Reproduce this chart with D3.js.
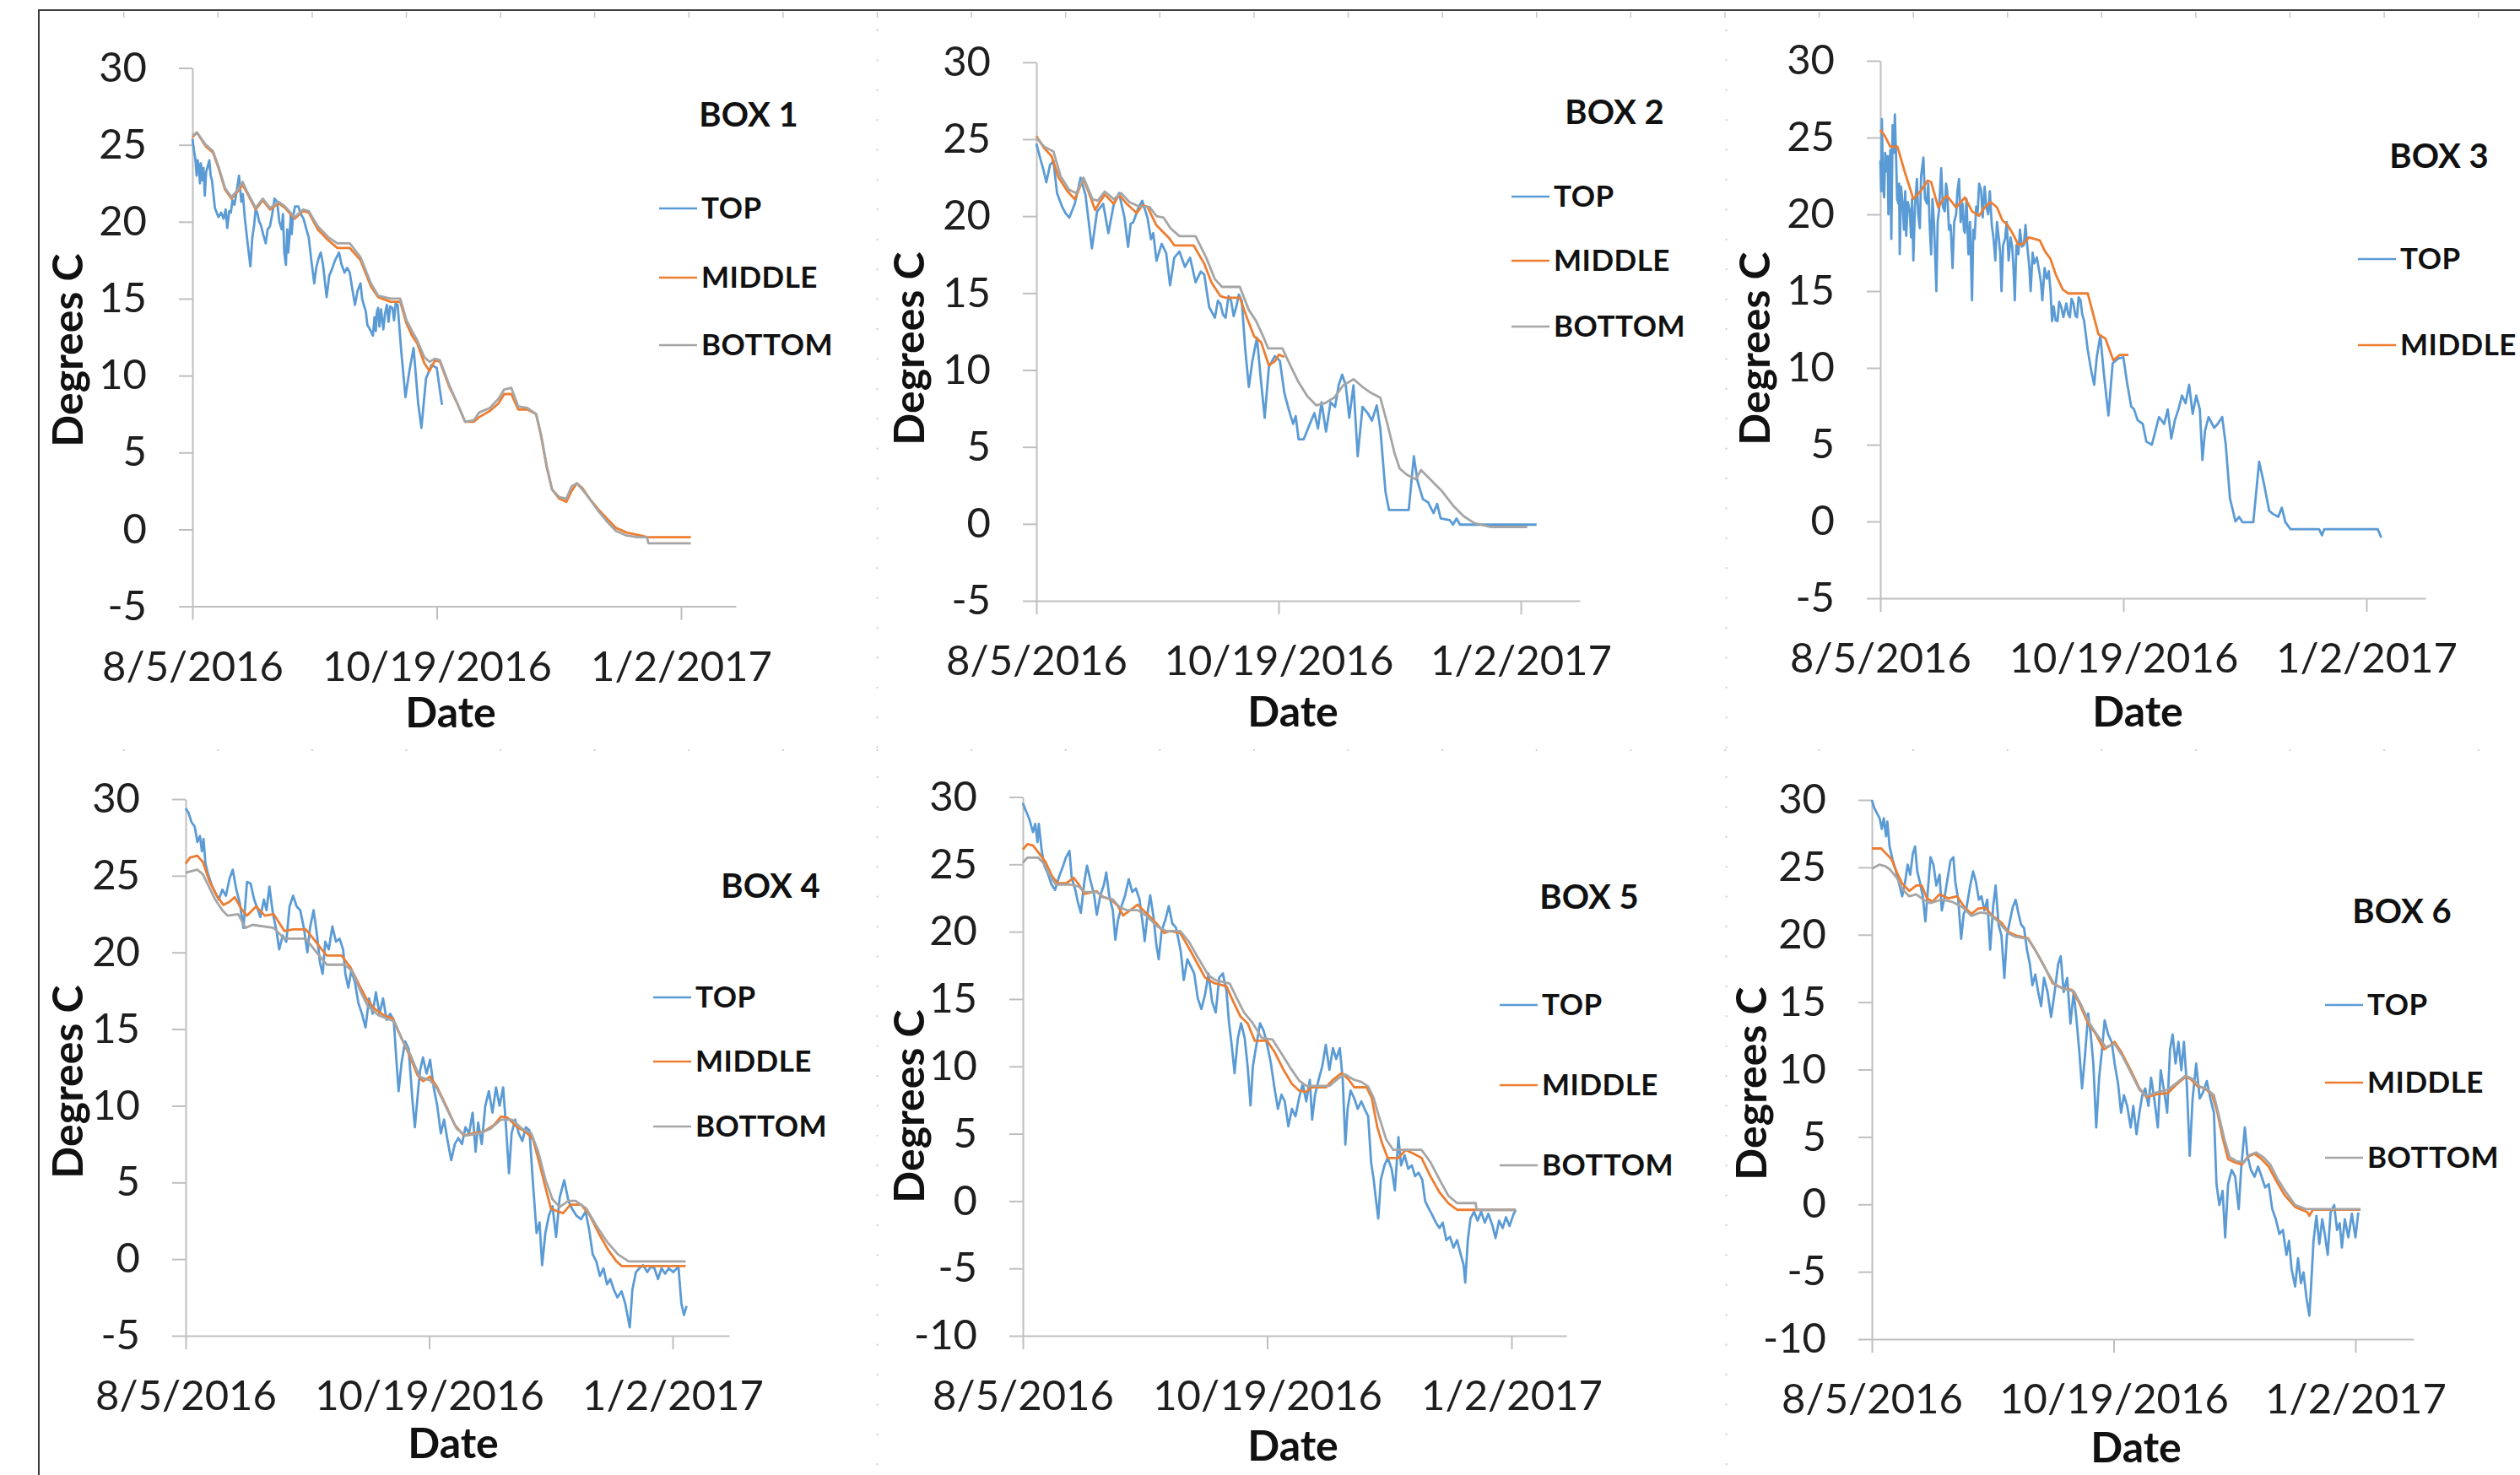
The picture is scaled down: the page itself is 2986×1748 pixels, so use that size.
<!DOCTYPE html>
<html>
<head>
<meta charset="utf-8">
<script src="https://cdn.jsdelivr.net/npm/d3@7"></script>
<style>
  body { margin: 0; background: #fff; }
  svg { display: block; }
</style>
</head>
<body>
<script>
// ---- data: [days since 8/5/2016, degrees C] ----
const seriesNames = ['TOP', 'MIDDLE', 'BOTTOM'];
const seriesColors = ['#5b9bd5', '#ed7d31', '#a5a5a5'];
const boxTitles = ['BOX 1', 'BOX 2', 'BOX 3', 'BOX 4', 'BOX 5', 'BOX 6'];
const yMins = [-5, -5, -5, -5, -10, -10];
const xTickLabels = ['8/5/2016', '10/19/2016', '1/2/2017'];
const startLabel = '8/5/2016';
const yAxisTitle = 'Degrees C';
const xAxisTitle = 'Date';

const box1Top = [[0,25.4],[0.5,24.6],[0.9,24.1],[1.3,23.0],[1.6,24.0],[2,23.6],[2.3,22.5],[2.6,23.8],[3,22.7],[3.4,23.5],[3.8,21.7],[4.2,23.2],[4.7,23.6],[5.2,24.0],[5.6,23.0],[6,22.7],[6.9,20.9],[8,20.3],[8.8,20.6],[9.6,20.2],[10.2,20.8],[10.7,19.6],[11.3,20.7],[11.8,20.6],[12.3,21.4],[12.9,21.1],[13.6,22.0],[14.3,23.0],[15,21.3],[15.5,21.8],[16.1,20.2],[17,18.5],[17.8,17.1],[18.4,19.0],[18.9,19.7],[19.4,20.8],[19.9,20.6],[20.5,20.0],[21,19.8],[21.7,19.2],[22.5,18.6],[23.1,19.5],[23.8,19.7],[24.5,20.5],[25.2,21.5],[26,21.3],[26.7,20.0],[27.4,19.5],[27.8,20.5],[28.2,18.0],[28.7,17.2],[29.1,19.5],[29.4,18.0],[29.8,19.0],[30.2,20.5],[30.5,19.2],[30.8,20.2],[31.5,21.0],[32.5,21.0],[33.3,20.5],[34.1,20.2],[35,19.5],[35.7,19.0],[36.5,17.5],[37.4,16.0],[38,17.0],[38.7,17.6],[39.4,18.0],[40.1,17.2],[41.2,15.1],[42,16.5],[42.8,16.9],[43.8,17.5],[45,18.0],[45.8,17.2],[46.7,16.7],[47.5,17.0],[48.3,16.7],[49.1,15.6],[49.9,14.6],[50.7,15.5],[51.6,16.0],[52.1,15.0],[52.6,14.6],[53.2,14.2],[53.7,13.3],[54.5,13.0],[55.4,12.6],[55.9,13.8],[56.3,12.9],[56.6,14.1],[57,14.4],[57.4,13.2],[57.9,14.3],[58.6,13.0],[59.1,14.0],[59.7,14.6],[60.2,13.5],[60.7,14.5],[61.4,14.4],[61.9,13.6],[62.4,14.7],[63,14.6],[64.1,11.6],[65.4,8.6],[66.6,10.3],[67.9,11.8],[69.3,8.2],[70.3,6.6],[71.7,9.8],[73.4,10.7],[75,10.5],[76.6,8.1]];
const box1Middle = [[0,25.5],[1.4,25.8],[4.1,24.9],[6.3,24.5],[8,23.5],[10,22.1],[12,21.5],[14,22.0],[15.4,22.4],[16.7,21.9],[19.4,20.8],[21.6,21.4],[23.8,20.8],[26.5,21.2],[28.4,20.9],[31.4,20.2],[34,20.7],[35.7,20.6],[38.5,19.5],[41.7,18.8],[44.5,18.3],[48.3,18.3],[51.6,17.5],[54.8,15.8],[57,15.1],[60.8,14.8],[63.8,14.8],[65.7,13.4],[67.4,12.6],[69,12.1],[71.2,10.8],[72.8,10.3],[74.5,11.0],[76,10.9],[78.8,9.3],[81.5,8.1],[83.7,7.0],[86.4,7.0],[88,7.3],[91.3,7.7],[94,8.2],[95.7,8.8],[97.9,8.8],[100,7.8],[102.8,7.8],[105.5,7.5],[107,6.1],[108.8,4.0],[110.4,2.6],[112.6,2.0],[114.8,1.8],[116.4,2.5],[118,3.0],[119.7,2.7],[121.9,2.0],[124.6,1.3],[127.3,0.7],[130,0.1],[133.3,-0.2],[136.6,-0.35],[139.8,-0.5],[153,-0.5]];
const box1Bottom = [[0,25.6],[1.4,25.8],[4.1,25.0],[6.3,24.6],[8,23.6],[10,22.2],[12,21.6],[14,22.1],[15.4,22.6],[16.7,22.0],[19.4,20.9],[21.6,21.5],[23.8,20.9],[26.5,21.3],[28.4,21.0],[31.4,20.3],[34,20.8],[35.7,20.7],[38.5,19.7],[41.7,19.0],[44.5,18.6],[48.3,18.6],[51.6,17.7],[54.8,16.0],[57,15.2],[60.8,15.0],[63.8,15.0],[65.7,13.6],[67.4,12.9],[69,12.3],[71.2,11.2],[72.8,10.9],[74.5,11.1],[76,11.0],[78.8,9.4],[81.5,8.1],[83.7,7.0],[86.4,7.1],[88,7.6],[91.3,7.9],[94,8.5],[95.7,9.1],[97.9,9.2],[100,8.0],[102.8,7.9],[105.5,7.5],[107,6.2],[108.8,4.1],[110.4,2.6],[112.6,2.1],[114.8,2.0],[116.4,2.8],[118,3.0],[119.7,2.6],[121.9,2.0],[124.6,1.2],[127.3,0.5],[130,-0.1],[133.3,-0.4],[136.6,-0.5],[139.5,-0.5],[140,-0.9],[153,-0.9]];

const box2Top = [[0,24.7],[1.4,23.6],[2.2,23.0],[3.1,22.2],[4.2,23.3],[5.3,23.6],[6.4,21.5],[8,20.6],[9,20.2],[10.2,19.9],[11.9,20.8],[13.7,22.5],[15.2,21.4],[17.2,17.9],[18.8,20.3],[20.7,20.8],[22.3,18.9],[24,20.8],[25.6,21.5],[27.3,19.9],[28.4,18.0],[29.2,19.5],[30,19.6],[31.7,20.6],[32.8,21.0],[34.4,19.9],[35.5,18.5],[36.2,18.9],[37.2,17.1],[38.8,18.2],[40.2,17.6],[41.4,15.5],[42.7,17.3],[44.3,17.7],[46,16.7],[47.6,17.3],[49.3,15.7],[50.9,16.4],[52,16.2],[53.5,14.1],[55.3,13.4],[56.2,14.5],[57,14.3],[57.8,13.6],[58.6,13.4],[59.5,14.8],[60.3,14.5],[61.1,13.5],[61.9,14.1],[62.7,14.9],[63.6,14.5],[64.7,11.3],[65.8,8.9],[66.9,10.6],[68.3,12.1],[69.6,9.2],[70.7,6.9],[72,10.2],[73.8,10.9],[75.4,10.6],[76.8,8.5],[78.2,7.4],[79.5,6.5],[80.3,7.0],[81.2,5.5],[82.8,5.5],[84.5,6.4],[86.1,7.2],[87.2,6.2],[88.3,7.9],[89.7,6.0],[91.1,7.9],[92.5,7.6],[93.6,9.0],[94.7,9.7],[95.8,9.0],[96.9,6.9],[98.2,9.0],[99.5,4.4],[101,7.6],[102.6,7.2],[103.9,6.7],[105.4,7.7],[106.5,6.2],[108.1,2.1],[109.2,0.9],[115.3,0.9],[116.9,4.4],[118,2.8],[119.7,1.6],[121.3,1.4],[123,0.7],[124.1,1.3],[125.2,0.35],[128,0.25],[129,-0.05],[130.1,0.35],[131.2,-0.05],[154.9,-0.05]];
const box2Middle = [[0,25.2],[2.5,24.4],[4.7,23.9],[6.9,22.5],[9.7,21.6],[11.9,21.1],[13.5,21.9],[14.6,22.4],[16.3,21.5],[18.2,20.4],[19.6,20.9],[21.2,21.4],[24,20.8],[25.6,21.4],[28,20.8],[31.1,20.2],[32.8,20.7],[34.4,20.6],[37.2,19.4],[41,18.6],[42.7,18.1],[48.7,18.1],[52,16.9],[54.2,15.7],[57,14.8],[58.6,14.7],[63,14.7],[65.2,13.4],[67.4,12.2],[69.6,11.8],[72,10.3],[74,10.6],[75.1,11.0],[76.8,10.85]];
const box2Bottom = [[0,25.1],[2.5,24.5],[5.3,24.2],[7.5,22.6],[10.2,21.7],[12.4,21.5],[14.6,22.5],[17.4,21.1],[19,21.0],[21.2,21.6],[24,21.1],[26.2,21.5],[28.9,20.9],[32.2,20.6],[35,20.6],[37.2,20.0],[39.4,19.9],[41.6,19.2],[44.3,18.7],[49.3,18.7],[52.6,17.3],[55.3,15.9],[57.5,15.4],[63,15.4],[65.8,13.9],[68,13.2],[70.2,12.2],[71.8,11.4],[76.2,11.4],[78.4,10.4],[81.2,9.2],[83.9,8.3],[86.7,7.7],[89.4,7.85],[92.2,8.2],[95,9.0],[98.2,9.4],[101,8.9],[103.7,8.5],[106.5,8.2],[108.7,6.5],[110.9,4.6],[112.5,3.6],[114.7,3.2],[117.5,2.9],[119.1,3.5],[122.4,2.8],[125.7,2.1],[129,1.2],[132.3,0.5],[135.6,0.05],[140.6,-0.2],[152,-0.2]];

const box3Top = [[0,23.5],[0.3,21.5],[0.5,26.2],[0.8,22.0],[1.2,21.1],[1.5,24.0],[2,22.8],[2.3,23.8],[2.5,20.0],[2.8,22.5],[3.1,24.2],[3.4,18.4],[3.6,22.0],[3.8,25.8],[4.2,24.0],[4.5,26.5],[4.9,23.5],[5.2,21.0],[5.6,20.7],[5.8,22.0],[6,17.4],[6.4,21.8],[6.9,20.7],[7.3,19.0],[7.7,21.5],[8,18.6],[8.5,20.8],[9.1,20.2],[9.5,18.5],[9.8,21.0],[10.2,17.0],[10.7,20.5],[11.3,22.3],[11.7,20.0],[12.2,19.1],[12.6,22.5],[13.3,23.7],[13.8,21.0],[14.4,20.7],[14.8,22.0],[15.3,19.0],[15.7,17.4],[16.1,21.0],[16.6,19.3],[17.3,15.0],[17.7,19.5],[18.1,20.2],[18.8,23.0],[19.3,20.5],[19.9,20.2],[20.3,22.0],[20.6,21.6],[21.2,19.0],[21.7,19.3],[22.3,16.5],[22.8,19.5],[23.4,20.0],[23.8,21.5],[24.3,22.3],[24.8,19.5],[25.4,20.7],[25.8,19.0],[26.1,18.8],[26.6,21.0],[27.2,17.4],[27.7,19.5],[28.3,14.4],[28.7,19.0],[29.1,18.4],[29.6,20.5],[30,20.0],[30.5,22.0],[31.1,21.6],[31.6,19.8],[32.2,21.8],[32.7,20.5],[33.3,20.0],[33.8,21.5],[34.4,19.3],[34.9,18.5],[35.5,17.0],[36,19.5],[36.6,18.4],[37,17.5],[37.4,15.0],[37.9,18.0],[38.5,18.4],[39,19.5],[39.6,17.0],[40.2,18.5],[40.7,17.9],[41.1,16.5],[41.5,14.4],[42,18.0],[42.6,17.4],[43.1,19.0],[43.7,17.9],[44.3,18.0],[44.8,19.3],[45.2,18.3],[45.6,17.4],[46,16.5],[46.4,15.0],[47,17.5],[47.5,16.8],[48.3,17.2],[49.2,16.1],[49.6,15.5],[50,14.4],[50.7,16.5],[51.4,15.8],[52,16.3],[52.5,15.1],[53,13.05],[53.5,14.0],[54.1,13.1],[54.7,13.05],[55.2,14.3],[55.8,14.0],[56.5,13.3],[57.4,14.2],[58,13.5],[58.5,13.3],[59,14.5],[59.6,14.2],[60.2,13.4],[60.7,13.3],[61.2,14.6],[61.8,14.4],[62.3,13.5],[62.9,13.05],[64,11.2],[65.1,9.8],[66,8.9],[66.8,10.7],[67.9,12.1],[69,9.6],[70.4,6.9],[71.7,10.3],[73.3,10.6],[75,10.7],[76.1,9.1],[77.4,7.5],[78.3,7.3],[79.4,6.6],[81,6.35],[82.1,5.2],[83.8,5.0],[84.9,5.9],[86,6.8],[87.6,6.35],[88.7,7.3],[89.8,5.4],[90.9,6.6],[92,7.3],[93.1,8.2],[94.2,7.7],[95.3,8.9],[96.4,7.0],[97.5,8.2],[98.6,7.3],[99.4,4.0],[100.2,5.9],[101.3,6.8],[103,6.1],[104.1,6.35],[105.5,6.8],[106.6,5.0],[107.9,1.5],[109.6,0],[110.7,0.3],[111.8,-0.05],[115.1,-0.05],[116.9,3.9],[118.4,2.45],[120,0.7],[121.1,0.5],[122.8,0.3],[123.9,0.9],[125,-0.05],[126.6,-0.5],[135.4,-0.5],[136.3,-0.9],[137,-0.5],[153.5,-0.5],[154.6,-1.05]];
const box3Middle = [[0,25.5],[1.4,25.1],[3.1,24.4],[5.3,24.4],[7.5,22.8],[10.2,21.0],[12.4,21.5],[14.6,22.2],[15.7,22.1],[17.9,20.45],[19.5,21.0],[20.6,21.2],[23.4,20.45],[26.1,21.1],[28.3,20.2],[30.5,19.9],[32.2,20.45],[34.1,20.8],[36,20.45],[37.7,19.6],[39.3,19.3],[41,18.7],[42.6,18.0],[44.2,18.1],[45.9,18.5],[49.2,18.3],[50.8,17.6],[52.5,17.1],[54.1,16.1],[56.3,15.1],[58,14.85],[64,14.85],[65.7,13.5],[67.3,12.2],[69.5,11.9],[71.9,10.5],[73.9,10.85],[76.6,10.85]];

const box4Top = [[0,29.4],[0.9,29.1],[1.8,28.5],[2.8,28.2],[3.6,27.2],[4.4,27.6],[5,26.6],[5.5,27.4],[6.1,25.8],[6.9,25.1],[8,24.4],[9.1,23.9],[10.2,23.45],[11.3,24.1],[12.4,23.7],[13.5,24.8],[14.5,25.4],[15.6,24.1],[16.7,23.2],[17.8,21.6],[18.9,24.6],[20,24.5],[21.1,23.45],[21.9,23.0],[23,22.3],[24.1,23.45],[24.9,22.75],[25.8,24.3],[26.9,22.5],[28,21.4],[28.8,20.2],[29.9,21.1],[31,20.7],[32,23.0],[33.1,23.7],[34.2,23.0],[35.3,22.75],[36.4,21.6],[37.5,20.0],[38.3,21.6],[39.4,22.75],[40.3,21.4],[41.4,19.3],[42.2,18.6],[43,20.7],[44.1,20.2],[45.2,21.7],[46.3,20.7],[47.4,20.9],[48.5,20.2],[49.2,18.6],[50.1,17.7],[51,18.8],[52.1,18.1],[53.2,16.7],[54.3,16.0],[55.4,15.1],[56.5,17.0],[57.6,16.0],[58.6,17.4],[59.7,16.0],[60.8,17.0],[61.9,15.6],[63,16.0],[64.1,15.6],[64.9,13.0],[65.6,10.95],[66.5,12.8],[67.6,14.2],[68.7,13.7],[69.8,10.5],[70.6,8.6],[71.4,10.5],[72.2,12.3],[73.1,13.15],[74.2,12.1],[75.3,13.0],[76.4,11.2],[77.5,10.0],[78.6,8.2],[79.6,9.1],[80.7,7.7],[81.8,6.45],[82.9,7.5],[84,7.9],[85.1,7.5],[86.2,8.6],[87.3,8.2],[88.4,9.55],[89.3,7.0],[90.1,8.9],[91.2,7.5],[92.3,10.0],[93.4,10.95],[94.5,9.55],[95.6,11.2],[96.7,10.0],[97.8,11.2],[98.6,8.9],[99.6,5.6],[100.4,8.2],[101.5,9.1],[102.6,8.2],[103.7,7.7],[104.8,8.6],[105.9,8.4],[107,4.9],[108.1,1.7],[109,2.4],[109.8,-0.4],[110.8,1.7],[111.9,2.85],[113,3.45],[114.1,1.45],[115.2,4.0],[116.6,5.15],[117.9,3.8],[119,3.3],[120.3,2.85],[121.8,2.6],[123.2,3.1],[124.3,1.9],[125.4,0.3],[126.5,-0.15],[127.6,-1.1],[128.7,-0.6],[129.8,-1.65],[130.8,-1.3],[131.9,-2.0],[133,-2.5],[134.3,-2.1],[135.4,-2.9],[136.8,-4.45],[137.6,-2.0],[138.7,-0.85],[139.8,-0.6],[140.9,-0.4],[142.2,-0.85],[143.3,-0.5],[144.4,-0.6],[145.5,-1.3],[146.6,-0.6],[147.7,-0.95],[148.8,-0.6],[150.2,-0.85],[151.8,-0.5],[152.7,-2.9],[153.5,-3.65],[154.3,-3.05]];
const box4Middle = [[0,25.8],[1.4,26.2],[3.6,26.3],[5.3,25.9],[7.4,24.6],[9.6,23.7],[11.6,23.1],[13.5,23.3],[15.1,23.6],[17.3,22.8],[18.9,22.4],[21.7,23.0],[24.4,22.4],[27.1,22.5],[30.4,21.4],[33.1,21.5],[37,21.5],[39.7,20.8],[41.9,20.2],[43.5,19.8],[48,19.8],[50.7,19.05],[53.4,17.9],[55.6,17.0],[58.3,16.3],[61,15.9],[63.8,15.7],[65.4,14.9],[68.7,13.4],[71.4,12.0],[73.1,11.6],[75.3,11.9],[77.5,11.2],[80.2,10.0],[82.9,8.75],[85.7,8.05],[88.4,8.2],[91.7,8.3],[95,8.75],[97.2,9.3],[99.3,9.2],[102.1,8.6],[104.8,8.3],[107,7.8],[108.6,6.55],[110.8,4.7],[112.5,3.3],[114.7,3.1],[116.3,3.0],[118.5,3.55],[121.8,3.55],[124.5,2.85],[127.2,1.7],[130,0.65],[132.7,-0.15],[134.3,-0.45],[154,-0.45]];
const box4Bottom = [[0,25.2],[3.6,25.4],[5.3,25.1],[6.9,24.4],[9.1,23.45],[11.3,22.75],[12.9,22.4],[16.2,22.5],[18.4,21.6],[20.6,21.8],[27.1,21.6],[30.4,20.9],[37,20.9],[40.3,20.0],[43.5,19.2],[49,19.2],[51.2,18.8],[54,17.4],[56.1,16.5],[59.4,15.9],[64.3,15.5],[66.5,14.4],[69.3,13.3],[72,11.9],[75.3,11.65],[77.5,11.1],[80.7,9.7],[83.5,8.5],[86.2,8.05],[90.6,8.2],[93.9,8.5],[97.2,9.1],[100.5,9.1],[103.7,8.5],[106.5,8.2],[108.6,7.0],[110.8,5.2],[113,3.9],[115.2,3.4],[117.9,3.8],[120.1,3.8],[123.4,3.3],[126.6,2.15],[129.9,1.1],[133.2,0.3],[136.5,-0.15],[154,-0.15]];

const box5Top = [[0,29.55],[0.9,29.0],[2,28.35],[3.1,27.4],[3.8,28.0],[4.5,26.65],[4.9,28.0],[5.8,26.0],[6.6,24.9],[7.7,24.3],[8.8,23.5],[9.9,23.1],[11,24.0],[12.1,24.7],[13.2,25.5],[14.3,26.0],[15,24.0],[16.1,23.1],[16.9,22.2],[17.8,21.4],[18.9,23.75],[19.7,24.9],[20.8,23.75],[21.9,22.7],[22.7,21.25],[23.8,22.7],[24.9,23.5],[25.6,24.4],[26.5,22.7],[27.6,21.6],[28.4,19.4],[29.2,20.85],[30.3,21.9],[31.4,22.7],[32.5,23.9],[33.6,22.95],[34.7,23.2],[35.8,22.4],[36.8,20.6],[37.4,19.3],[38.3,21.4],[39.1,22.7],[40.1,21.1],[41,19.0],[41.7,17.95],[42.6,20.05],[43.7,20.85],[44.8,21.9],[45.9,20.6],[47,20.3],[47.7,19.5],[48.5,18.5],[49.4,16.4],[50.5,17.95],[51.6,17.4],[52.6,16.9],[53.7,15.05],[54.8,14.25],[55.9,15.3],[57,16.9],[58.1,14.8],[59.2,14.0],[60.3,16.6],[61.4,16.9],[62.5,15.6],[63.3,13.2],[64.1,11.6],[65,9.5],[66,12.1],[67,13.2],[68.1,12.1],[69,10.0],[69.9,7.1],[70.6,10.0],[71.7,11.6],[72.8,13.2],[73.9,12.65],[75,11.6],[76.1,10.3],[77.2,8.45],[78.3,6.85],[79.4,7.9],[80.4,7.4],[81.5,5.55],[82.6,6.85],[83.7,6.3],[84.8,7.65],[85.9,8.7],[87,7.4],[88.1,9.0],[88.8,6.05],[89.7,7.9],[90.8,9.0],[91.9,10.0],[93,11.6],[94.1,9.75],[95.2,11.35],[96.2,10.55],[97.3,11.35],[98.2,9.0],[99,4.2],[99.7,6.85],[100.6,8.2],[101.7,7.65],[102.8,6.85],[103.9,7.4],[104.9,6.85],[106,6.3],[106.9,2.9],[107.7,1.6],[108.2,0.5],[109.1,-1.3],[109.9,1.6],[111,2.65],[112,3.2],[113.2,2.4],[114.2,0.8],[115.3,4.75],[116.1,2.65],[117.2,3.4],[118.3,2.4],[119.4,2.65],[120.4,1.85],[121.5,2.1],[122.6,1.6],[123.5,0],[124.6,-0.55],[125.7,-1.05],[126.8,-1.6],[127.9,-2.0],[128.9,-1.6],[130,-2.9],[131.1,-2.65],[132.2,-3.45],[133.3,-2.9],[134.4,-3.95],[135.3,-4.75],[135.8,-6.05],[136.6,-2.9],[137.4,-1.3],[138.5,-0.8],[139.6,-1.45],[140.7,-0.8],[141.8,-1.6],[142.9,-0.95],[144.2,-1.85],[145.1,-2.75],[146.2,-1.45],[147.3,-2.0],[148.3,-1.2],[149.4,-1.85],[150.5,-1.05],[151.3,-0.65]];
const box5Middle = [[0,26.1],[1.4,26.5],[3.1,26.4],[4.7,25.9],[6.9,25.2],[9,24.1],[10.7,23.6],[13.4,23.6],[15.6,24.0],[17.2,23.5],[18.9,22.8],[22.7,23.0],[24.3,22.6],[27,22.4],[29.2,21.9],[30.8,21.2],[33,21.6],[35.2,22.0],[37.4,21.5],[40.7,20.7],[43.4,19.9],[45,20.05],[48.3,19.9],[50.5,19.0],[53.2,17.8],[55.9,16.6],[58.6,16.2],[62.5,15.95],[64.6,14.8],[66.8,13.7],[69,13.2],[71.2,11.9],[75,11.9],[77.2,11.1],[79.9,9.8],[82.6,8.7],[84.8,8.2],[87,8.1],[88.6,8.45],[93,8.45],[95.2,9.0],[97.9,9.5],[100.1,9.0],[101.7,8.45],[105.5,8.45],[107.1,7.65],[108.8,5.5],[110.4,4.2],[112,3.2],[115.3,3.2],[117.5,3.8],[119.7,3.55],[122.4,3.2],[125.1,1.85],[127.9,0.65],[130.6,-0.15],[133.3,-0.65],[151.3,-0.65]];
const box5Bottom = [[0,25.1],[1.4,25.5],[4.7,25.5],[6.3,25.1],[8.5,24.1],[10.1,23.5],[14.5,23.5],[17.2,23.35],[18.9,22.95],[22.7,22.95],[24.9,22.55],[27.6,22.4],[29.8,21.8],[31.9,21.6],[35.2,21.6],[37.9,21.2],[41.2,20.4],[43.9,20.05],[48.3,20.05],[51,19.25],[53.7,18.1],[57,16.75],[59.2,16.4],[63.5,16.15],[65.7,15.05],[67.9,14.0],[70.6,13.2],[73.4,12.1],[76.6,12.0],[79.4,10.95],[82.1,9.9],[84.8,8.95],[87,8.55],[94.1,8.55],[96.8,9.1],[99,9.4],[101.7,9.0],[103.9,8.85],[106,8.5],[107.7,7.65],[109.3,6.3],[111.5,4.6],[113.7,3.8],[122.4,3.8],[125.1,2.9],[127.9,1.6],[130.6,0.4],[133.3,-0.15],[139,-0.15],[139.3,-0.65],[151.3,-0.65]];

const box6Top = [[0,30.0],[0.7,29.45],[1.5,29.05],[2.4,28.65],[3.1,27.85],[3.7,28.65],[4.4,27.3],[4.8,28.4],[5.5,26.55],[6.4,25.6],[7.5,24.7],[8.6,23.65],[9.4,22.85],[10.3,23.9],[11.1,25.2],[11.9,24.45],[12.7,26.0],[13.4,26.55],[14.1,24.7],[14.9,23.9],[15.8,22.85],[16.6,21.0],[17.3,23.1],[18.2,25.75],[19.1,25.2],[20,23.65],[21,24.45],[21.7,21.8],[22.6,22.85],[23.5,24.2],[24.4,25.5],[25.3,25.75],[25.9,23.9],[26.8,22.6],[27.7,19.7],[28.5,21.55],[29.4,22.05],[30.5,23.65],[31.4,24.7],[32.3,23.9],[33.2,22.6],[34,22.85],[34.9,21.8],[35.8,22.6],[36.7,18.9],[37.6,22.05],[38.4,23.65],[39.3,20.75],[40.2,19.95],[41.1,16.8],[41.9,19.95],[42.8,21.0],[43.7,22.05],[44.6,22.6],[45.5,21.55],[46.3,20.75],[47.2,20.5],[48.1,18.9],[49,17.85],[49.8,16.25],[50.7,17.05],[51.6,15.75],[52.5,14.7],[53.4,16.8],[54.5,15.75],[55.6,13.9],[56.7,15.75],[57.8,17.85],[58.6,18.4],[59.5,15.75],[60.6,16.8],[61.6,13.4],[62.6,15.75],[63.5,13.65],[64.3,11.5],[65.2,8.6],[66.1,11.0],[67.1,14.15],[67.9,12.6],[68.7,10.45],[69.6,5.7],[70.5,9.4],[71.4,11.5],[72.2,13.65],[73.3,12.6],[74.4,12.05],[75.3,10.45],[76.4,8.9],[77.3,6.8],[78.2,8.1],[79.2,7.3],[80.3,5.7],[81.1,7.3],[82.1,5.2],[83,6.8],[83.9,8.1],[84.8,8.6],[85.8,7.3],[86.6,9.4],[87.6,7.85],[88.7,5.7],[89.6,9.95],[90.7,8.35],[91.6,6.8],[92.5,11.5],[93.3,12.6],[94.2,10.45],[95.1,12.05],[96,9.95],[96.8,12.05],[97.7,8.9],[98.6,3.6],[99.5,7.85],[100.6,10.45],[101.7,7.85],[102.8,8.35],[103.9,9.15],[105,7.85],[106.1,6.8],[106.9,1.5],[107.8,-0.05],[108.8,1.0],[109.6,-2.45],[110.5,1.5],[111.6,2.55],[112.7,2.05],[113.8,-0.35],[114.6,2.8],[115.7,5.7],[116.5,3.6],[117.6,2.55],[118.7,2.05],[119.8,2.8],[120.9,2.05],[122,1.25],[123.1,1.5],[124.2,-0.35],[125.3,-1.1],[126.4,-2.2],[127.5,-1.9],[128.6,-3.75],[129.4,-2.7],[130.2,-4.8],[131.3,-6.1],[132.2,-4.0],[133.1,-5.85],[133.9,-5.05],[134.8,-6.9],[135.7,-8.25],[136.3,-5.85],[137,-2.7],[137.9,-0.85],[138.8,-2.95],[139.7,-1.1],[140.5,-2.2],[141.4,-3.75],[142.3,-0.6],[143.4,-0.05],[144.3,-1.9],[145.1,-1.4],[145.8,-3.2],[146.7,-1.1],[147.8,-2.45],[148.9,-0.7],[150,-2.45],[150.9,-0.6]];
const box6Middle = [[0,26.4],[2.9,26.4],[4.5,26.0],[6.1,25.6],[7.8,24.6],[9.4,23.8],[11.6,23.25],[13.8,23.65],[15.5,23.65],[17.1,22.7],[18.8,22.45],[21,23.0],[23.7,22.7],[26.5,22.85],[28.7,22.05],[30.9,21.55],[33,21.95],[35.2,22.0],[37.4,21.4],[40.2,20.9],[42.4,20.2],[44.6,19.95],[48.4,19.75],[50.6,18.9],[53.4,17.7],[56.1,16.4],[58.9,16.05],[62.1,15.9],[64.3,14.95],[67.1,13.4],[69.3,12.7],[72,11.5],[73.7,11.75],[75.3,12.05],[77.5,11.25],[80.3,9.95],[83,8.6],[85.2,7.95],[88,8.15],[91.8,8.25],[94.5,8.9],[97.3,9.45],[98.9,9.3],[101.1,8.75],[103.3,8.6],[105.5,8.15],[107.2,6.8],[108.8,4.95],[110.5,3.35],[112.7,3.1],[114.8,2.95],[116.5,3.5],[118.7,3.75],[120.9,3.35],[123.1,2.8],[125.3,1.8],[128,0.7],[131.3,-0.2],[135.2,-0.6],[135.7,-0.85],[136.8,-0.4],[151.6,-0.4]];
const box6Bottom = [[0,24.9],[2.3,25.2],[4,25.1],[5.6,24.85],[7.8,24.2],[9.4,23.4],[11.6,22.85],[13.8,23.0],[16,22.6],[18.2,22.35],[21.5,22.6],[24.8,22.45],[28.1,22.05],[30.9,21.4],[33.6,21.65],[36.3,21.55],[39.1,21.0],[42.4,20.1],[44.6,19.85],[48.4,19.7],[51.2,18.65],[53.9,17.45],[56.7,16.3],[59.4,16.0],[62.7,15.8],[64.9,14.8],[67.6,13.4],[69.8,12.6],[72.6,11.65],[75.3,11.9],[77.5,11.1],[80.3,9.8],[83,8.5],[85.2,8.05],[88.5,8.3],[91.8,8.5],[94.5,9.0],[97.3,9.55],[99.5,9.3],[101.7,8.75],[103.9,8.55],[106.1,8.1],[107.7,6.5],[109.4,4.8],[111,3.5],[113.2,3.2],[115.4,3.1],[117,3.65],[119.2,3.85],[121.4,3.5],[123.6,2.95],[125.8,1.9],[128.6,0.85],[131.3,-0.05],[134.6,-0.35],[151.6,-0.35]];

const boxSeries = [
  [box1Top, box1Middle, box1Bottom],
  [box2Top, box2Middle, box2Bottom],
  [box3Top, box3Middle],
  [box4Top, box4Middle, box4Bottom],
  [box5Top, box5Middle, box5Bottom],
  [box6Top, box6Middle, box6Bottom]
];

// ---- layout (pixels) ----
const W = 2986, H = 1748;
const panels = [
  {x0: 228,  x150: 807,  xEnd: 872,  yTop: 80.5,  yBot: 718.6, tx: 887,  ty: 136,  lx: 781,  ly: [247, 329, 409],   dx: 534,  dy: 844,  gx: 80,   gy: 415},
  {x0: 1228, x150: 1802, xEnd: 1872, yTop: 73.8,  yBot: 712,   tx: 1913, ty: 133,  lx: 1791, ly: [233, 309, 387],   dx: 1532, dy: 843,  gx: 1077, gy: 413},
  {x0: 2228, x150: 2804, xEnd: 2874, yTop: 72,    yBot: 709,   tx: 2890, ty: 185,  lx: 2794, ly: [307, 409],        dx: 2533, dy: 843,  gx: 2079, gy: 413},
  {x0: 220,  x150: 797,  xEnd: 864,  yTop: 947,   yBot: 1583,  tx: 913,  ty: 1050, lx: 774,  ly: [1182, 1258, 1335], dx: 537,  dy: 1710, gx: 80,   gy: 1282},
  {x0: 1212, x150: 1791, xEnd: 1856, yTop: 944.5, yBot: 1583,  tx: 1883, ty: 1063, lx: 1777, ly: [1191, 1286, 1381], dx: 1532, dy: 1713, gx: 1077, gy: 1311},
  {x0: 2218, x150: 2791, xEnd: 2860, yTop: 948,   yBot: 1587,  tx: 2846, ty: 1080, lx: 2755, ly: [1191, 1283, 1372], dx: 2531, dy: 1715, gx: 2075, gy: 1284}
];

const FONT = 'Lato, "Open Sans", sans-serif';
const AXIS = '#bfbfbf';
const parseDate = d3.utcParse('%m/%d/%Y');
const fmtDate = d3.utcFormat('%-m/%-d/%Y');
const t0 = parseDate(startLabel);
const xTicks = xTickLabels.map(parseDate);
const toDate = d => new Date(t0.getTime() + d * 864e5);

const svg = d3.select('body').append('svg')
    .attr('width', W).attr('height', H)
    .attr('viewBox', [0, 0, W, H]);

svg.append('rect').attr('width', W).attr('height', H).attr('fill', '#fff');

// sheet background: faint cell-boundary marks and page border
const colX = d3.range(35.1, W, 111.6).filter(x => x > 50);
svg.append('g').selectAll('line').data(colX).join('line')
    .attr('x1', d => d).attr('x2', d => d).attr('y1', 14).attr('y2', 21)
    .attr('stroke', '#c8c8c8').attr('stroke-width', 1.5);
svg.append('g').selectAll('rect').data(colX).join('rect')
    .attr('x', d => d - 1).attr('y', 888).attr('width', 2).attr('height', 2)
    .attr('fill', '#cfcfcf');
const rowY = d3.range(36, H, 35.4);
[1039.5, 2045.6].forEach(cx => {
  svg.append('g').selectAll('rect').data(rowY).join('rect')
      .attr('x', cx - 1).attr('y', d => d - 1).attr('width', 2).attr('height', 2)
      .attr('fill', '#cfcfcf');
});
svg.append('path').attr('d', `M46,${H}V12H${W}`)
    .attr('fill', 'none').attr('stroke', '#3c3c3c').attr('stroke-width', 2);

panels.forEach((p, i) => {
  const g = svg.append('g');
  const xBase = d3.scaleUtc().domain([xTicks[0], xTicks[2]]).range([p.x0, p.x150]);
  const x = d3.scaleUtc().domain([xTicks[0], xBase.invert(p.xEnd)]).range([p.x0, p.xEnd]);
  const y = d3.scaleLinear().domain([yMins[i], 30]).range([p.yBot, p.yTop]);

  // x axis
  g.append('g')
      .attr('transform', `translate(0,${p.yBot})`)
      .call(d3.axisBottom(x).tickValues(xTicks).tickFormat(fmtDate).tickSize(16).tickSizeOuter(0))
      .call(a => a.select('.domain').attr('stroke', AXIS).attr('stroke-width', 2))
      .call(a => a.selectAll('.tick line').attr('stroke', AXIS).attr('stroke-width', 2))
      .call(a => a.selectAll('.tick text').attr('y', 71).attr('dy', '0.35em').attr('fill', '#1e1e1e'))
      .attr('font-family', FONT).attr('font-size', 49);

  // y axis
  g.append('g')
      .attr('transform', `translate(${p.x0},0)`)
      .call(d3.axisLeft(y).tickValues(d3.range(yMins[i], 31, 5)).tickFormat(d => String(d))
          .tickSize(16).tickPadding(38).tickSizeOuter(0))
      .call(a => a.select('.domain').attr('stroke', AXIS).attr('stroke-width', 2))
      .call(a => a.selectAll('.tick line').attr('stroke', AXIS).attr('stroke-width', 2))
      .call(a => a.selectAll('.tick text').attr('fill', '#1e1e1e'))
      .attr('font-family', FONT).attr('font-size', 49);

  // series lines
  const line = d3.line().x(d => x(toDate(d[0]))).y(d => y(d[1]));
  boxSeries[i].forEach((data, j) => {
    g.append('path').datum(data)
        .attr('d', line)
        .attr('fill', 'none')
        .attr('stroke', seriesColors[j])
        .attr('stroke-width', 2.8)
        .attr('stroke-linejoin', 'round');
  });

  // legend
  boxSeries[i].forEach((data, j) => {
    g.append('line')
        .attr('x1', p.lx).attr('x2', p.lx + 45)
        .attr('y1', p.ly[j]).attr('y2', p.ly[j])
        .attr('stroke', seriesColors[j]).attr('stroke-width', 2.6);
    g.append('text')
        .attr('x', p.lx + 50).attr('y', p.ly[j]).attr('dy', '0.35em')
        .attr('font-family', FONT).attr('font-weight', 700).attr('font-size', 35)
        .attr('letter-spacing', 0.5)
        .attr('fill', '#111')
        .text(seriesNames[j]);
  });

  // titles
  g.append('text')
      .attr('x', p.tx).attr('y', p.ty).attr('dy', '0.35em')
      .attr('text-anchor', 'middle')
      .attr('font-family', FONT).attr('font-weight', 700).attr('font-size', 40)
      .attr('fill', '#111')
      .text(boxTitles[i]);
  g.append('text')
      .attr('x', p.dx).attr('y', p.dy).attr('dy', '0.35em')
      .attr('text-anchor', 'middle')
      .attr('font-family', FONT).attr('font-weight', 700).attr('font-size', 50)
      .attr('fill', '#111')
      .text(xAxisTitle);
  g.append('text')
      .attr('transform', `translate(${p.gx},${p.gy}) rotate(-90)`)
      .attr('dy', '0.35em')
      .attr('text-anchor', 'middle')
      .attr('font-family', FONT).attr('font-weight', 700).attr('font-size', 50)
      .attr('fill', '#111')
      .text(yAxisTitle);
});
</script>
</body>
</html>
